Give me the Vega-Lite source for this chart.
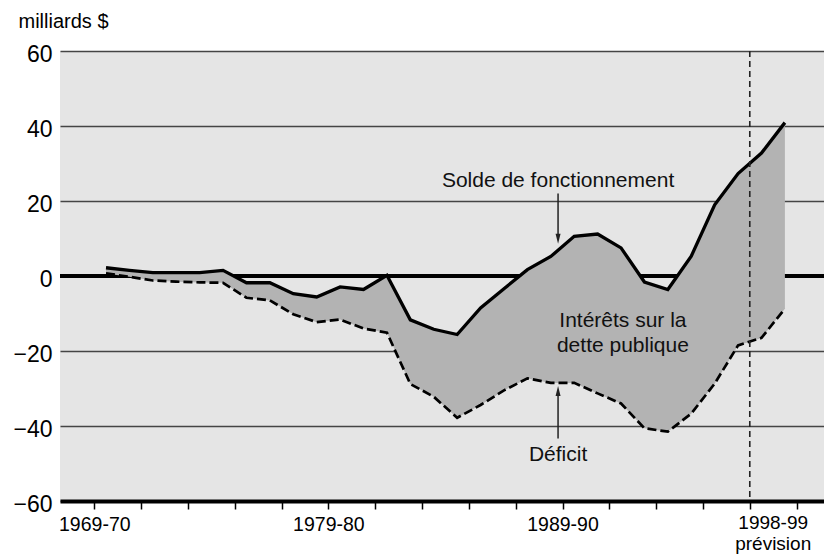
{
  "$schema": "https://vega.github.io/schema/vega-lite/v6.json",
  "width": 764,
  "height": 450,
  "autosize": {"type": "none"},
  "padding": {"left": 60, "top": 51, "right": 0, "bottom": 57},
  "background": "white",
  "config": {
    "view": {"fill": "#e5e5e5", "stroke": null},
    "font": "Liberation Sans",
    "axis": {"labelFont": "Liberation Sans", "titleFont": "Liberation Sans", "labelColor": "#000", "titleColor": "#000", "titleFontWeight": "normal"},
    "text": {"font": "Liberation Sans", "fontWeight": "normal"}
  },
  "datasets": {
    "budget": [
      {"exercice": "1969-70", "annee": 1969.5, "solde": 2.2, "deficit": 0.7},
      {"exercice": "1970-71", "annee": 1970.5, "solde": 1.5, "deficit": -0.2},
      {"exercice": "1971-72", "annee": 1971.5, "solde": 0.9, "deficit": -1.2},
      {"exercice": "1972-73", "annee": 1972.5, "solde": 0.9, "deficit": -1.5},
      {"exercice": "1973-74", "annee": 1973.5, "solde": 0.9, "deficit": -1.7},
      {"exercice": "1974-75", "annee": 1974.5, "solde": 1.5, "deficit": -1.8},
      {"exercice": "1975-76", "annee": 1975.5, "solde": -1.8, "deficit": -5.8},
      {"exercice": "1976-77", "annee": 1976.5, "solde": -1.8, "deficit": -6.5},
      {"exercice": "1977-78", "annee": 1977.5, "solde": -4.7, "deficit": -10.2},
      {"exercice": "1978-79", "annee": 1978.5, "solde": -5.6, "deficit": -12.3},
      {"exercice": "1979-80", "annee": 1979.5, "solde": -2.9, "deficit": -11.6},
      {"exercice": "1980-81", "annee": 1980.5, "solde": -3.6, "deficit": -14.0},
      {"exercice": "1981-82", "annee": 1981.5, "solde": 0.2, "deficit": -15.1},
      {"exercice": "1982-83", "annee": 1982.5, "solde": -11.7, "deficit": -28.8},
      {"exercice": "1983-84", "annee": 1983.5, "solde": -14.2, "deficit": -32.2},
      {"exercice": "1984-85", "annee": 1984.5, "solde": -15.6, "deficit": -37.8},
      {"exercice": "1985-86", "annee": 1985.5, "solde": -8.5, "deficit": -34.4},
      {"exercice": "1986-87", "annee": 1986.5, "solde": -3.4, "deficit": -30.5},
      {"exercice": "1987-88", "annee": 1987.5, "solde": 1.7, "deficit": -27.3},
      {"exercice": "1988-89", "annee": 1988.5, "solde": 5.2, "deficit": -28.5},
      {"exercice": "1989-90", "annee": 1989.5, "solde": 10.6, "deficit": -28.5},
      {"exercice": "1990-91", "annee": 1990.5, "solde": 11.2, "deficit": -31.3},
      {"exercice": "1991-92", "annee": 1991.5, "solde": 7.5, "deficit": -34.0},
      {"exercice": "1992-93", "annee": 1992.5, "solde": -1.6, "deficit": -40.6},
      {"exercice": "1993-94", "annee": 1993.5, "solde": -3.6, "deficit": -41.5},
      {"exercice": "1994-95", "annee": 1994.5, "solde": 5.3, "deficit": -36.7},
      {"exercice": "1995-96", "annee": 1995.5, "solde": 19.0, "deficit": -28.7},
      {"exercice": "1996-97", "annee": 1996.5, "solde": 27.3, "deficit": -18.5},
      {"exercice": "1997-98", "annee": 1997.5, "solde": 32.8, "deficit": -16.5},
      {"exercice": "1998-99", "annee": 1998.5, "solde": 40.9, "deficit": -8.7}
    ],
    "one": [{}]
  },
  "layer": [
    {
      "data": {"name": "one"},
      "mark": {"type": "rule", "strokeWidth": 4, "color": "#000"},
      "encoding": {
        "y": {
          "datum": 0,
          "type": "quantitative",
          "scale": {"domain": [-60, 60], "nice": false, "zero": false},
          "axis": {
            "title": "milliards $",
            "values": [-60, -40, -20, 0, 20, 40, 60],
            "grid": true,
            "gridColor": "#454545",
            "gridWidth": 1.5,
            "domain": false,
            "ticks": false,
            "labelFontSize": 23,
            "labelPadding": 8,
            "labelBaseline": "middle",
            "labelOffset": 3,
            "titleAngle": 0,
            "titleX": -42,
            "titleY": -24,
            "titleAlign": "left",
            "titleBaseline": "alphabetic",
            "titleFontSize": 20
          }
        }
      }
    },
    {
      "data": {"name": "budget"},
      "mark": {"type": "area", "color": "#b3b3b3", "opacity": 1},
      "encoding": {
        "x": {
          "field": "annee",
          "type": "quantitative",
          "scale": {"domain": [1967.535, 2000.17], "nice": false, "zero": false},
          "axis": {
            "title": null,
            "values": [1969, 1970, 1971, 1972, 1973, 1974, 1975, 1976, 1977, 1978, 1979, 1980, 1981, 1982, 1983, 1984, 1985, 1986, 1987, 1988, 1989, 1990, 1991, 1992, 1993, 1994, 1995, 1996, 1997, 1998, 1999],
            "labelExpr": "round(datum.value) == 1969 ? '1969-70' : round(datum.value) == 1979 ? '1979-80' : round(datum.value) == 1989 ? '1989-90' : ''",
            "grid": false,
            "domain": true,
            "domainColor": "#000",
            "domainWidth": 4,
            "ticks": true,
            "tickSize": 8,
            "tickWidth": 1.5,
            "tickColor": "#000",
            "labelFontSize": 19.5,
            "labelPadding": 6,
            "labelOverlap": false,
            "labelFlush": false,
            "zindex": 1
          }
        },
        "y": {"field": "solde", "type": "quantitative", "title": "milliards $"},
        "y2": {"field": "deficit"}
      }
    },
    {
      "data": {"name": "budget"},
      "mark": {"type": "line", "color": "#000", "strokeWidth": 3.3},
      "encoding": {
        "x": {"field": "annee", "type": "quantitative"},
        "y": {"field": "solde", "type": "quantitative", "title": "milliards $"}
      }
    },
    {
      "data": {"name": "budget"},
      "mark": {"type": "line", "color": "#000", "strokeWidth": 2.7, "strokeDash": [9, 4]},
      "encoding": {
        "x": {"field": "annee", "type": "quantitative"},
        "y": {"field": "deficit", "type": "quantitative", "title": "milliards $"}
      }
    },
    {
      "data": {"name": "one"},
      "mark": {"type": "rule", "color": "#222", "strokeWidth": 1.6, "strokeDash": [6, 4]},
      "encoding": {"x": {"datum": 1997, "type": "quantitative"}}
    },
    {
      "data": {"name": "one"},
      "mark": {"type": "text", "fontSize": 21, "fontWeight": "normal", "align": "center", "baseline": "alphabetic", "color": "#111"},
      "encoding": {
        "x": {"datum": 1988.81, "type": "quantitative"},
        "y": {"datum": 23.8, "type": "quantitative"},
        "text": {"value": "Solde de fonctionnement"}
      }
    },
    {
      "data": {"name": "one"},
      "mark": {"type": "rule", "color": "#222", "strokeWidth": 1.5},
      "encoding": {
        "x": {"datum": 1988.81, "type": "quantitative"},
        "y": {"datum": 22, "type": "quantitative"},
        "y2": {"datum": 10}
      }
    },
    {
      "data": {"name": "one"},
      "mark": {"type": "point", "shape": "M-1,-4L1,-4L0,0Z", "size": 25, "filled": true, "color": "#222", "opacity": 1},
      "encoding": {
        "x": {"datum": 1988.81, "type": "quantitative"},
        "y": {"datum": 8.6, "type": "quantitative"}
      }
    },
    {
      "data": {"name": "one"},
      "mark": {"type": "text", "fontSize": 21, "fontWeight": "normal", "align": "center", "baseline": "alphabetic", "color": "#111", "lineBreak": "\n", "lineHeight": 25},
      "encoding": {
        "x": {"datum": 1991.58, "type": "quantitative"},
        "y": {"datum": -13.6, "type": "quantitative"},
        "text": {"value": "Intérêts sur la\ndette publique"}
      }
    },
    {
      "data": {"name": "one"},
      "mark": {"type": "text", "fontSize": 21, "fontWeight": "normal", "align": "center", "baseline": "alphabetic", "color": "#111"},
      "encoding": {
        "x": {"datum": 1988.81, "type": "quantitative"},
        "y": {"datum": -49.3, "type": "quantitative"},
        "text": {"value": "Déficit"}
      }
    },
    {
      "data": {"name": "one"},
      "mark": {"type": "rule", "color": "#222", "strokeWidth": 1.5},
      "encoding": {
        "x": {"datum": 1988.81, "type": "quantitative"},
        "y": {"datum": -43.3, "type": "quantitative"},
        "y2": {"datum": -30.5}
      }
    },
    {
      "data": {"name": "one"},
      "mark": {"type": "point", "shape": "M-1,4L1,4L0,0Z", "size": 25, "filled": true, "color": "#222", "opacity": 1},
      "encoding": {
        "x": {"datum": 1988.81, "type": "quantitative"},
        "y": {"datum": -29.3, "type": "quantitative"}
      }
    },
    {
      "data": {"name": "one"},
      "mark": {"type": "text", "fontSize": 19, "fontWeight": "normal", "align": "center", "baseline": "alphabetic", "color": "#000", "lineBreak": "\n", "lineHeight": 21},
      "encoding": {
        "x": {"datum": 1998, "type": "quantitative"},
        "y": {"datum": -67.5, "type": "quantitative"},
        "text": {"value": "1998-99\nprévision"}
      }
    }
  ]
}
